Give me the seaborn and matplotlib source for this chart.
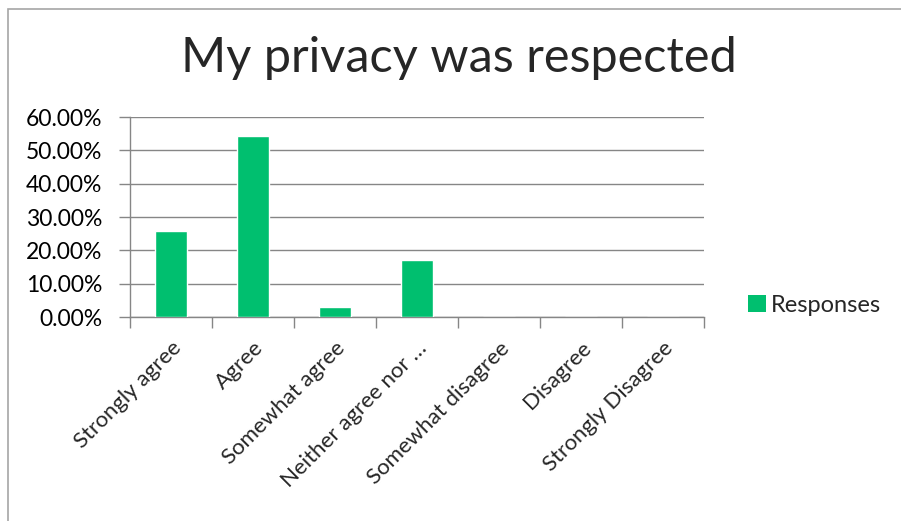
import matplotlib
matplotlib.use("Agg")
import matplotlib.pyplot as plt
import matplotlib.patches as mpatches
import matplotlib.transforms as mtransforms
import numpy as np
import pandas as pd
import seaborn as sns

# Survey answers and share of responses
categories = ["Strongly agree", "Agree", "Somewhat agree", "Neither agree nor …",
              "Somewhat disagree", "Disagree", "Strongly Disagree"]
responses = [0.2571, 0.5429, 0.0286, 0.1714, 0.0, 0.0, 0.0]
y_ticks = [0.0, 0.1, 0.2, 0.3, 0.4, 0.5, 0.6]
title = "My privacy was respected"
series_name = "Responses"

bar_color = "#00BF6F"
grid_color = "#868686"
font = ["Lato", "DejaVu Sans"]

sns.set_theme(style="white")
plt.rcParams["font.family"] = font

df = pd.DataFrame({"category": categories, "share": responses})

W, H = 901, 521
fig = plt.figure(figsize=(W / 100, H / 100), dpi=100)
fig.patch.set_facecolor("white")

# chart border (top and left edges visible)
fig.add_artist(mpatches.Rectangle((8 / W, -0.1), 1.2, 1 - 8.5 / H + 0.1,
                                  transform=fig.transFigure, fill=False,
                                  edgecolor="#A6A6A6", linewidth=1.2))

ax = fig.add_axes([130 / W, 1 - 317 / H, (704 - 130) / W, (317 - 117) / H])
sns.barplot(data=df, x="category", y="share", color=bar_color, width=0.4,
            saturation=1, ax=ax, zorder=3)

ax.set_xlim(-0.5, len(categories) - 0.5)
ax.set_ylim(0, 0.6)
ax.set_yticks(y_ticks)
ax.set_yticklabels([f"{v * 100:.2f}%" for v in y_ticks], fontsize=16.5)
ax.yaxis.grid(True, color=grid_color, linewidth=1, zorder=0)
ax.set_axisbelow(True)

for s in ["top", "right"]:
    ax.spines[s].set_visible(False)
for s in ["left", "bottom"]:
    ax.spines[s].set_color(grid_color)
    ax.spines[s].set_linewidth(1)

ax.tick_params(axis="y", which="major", left=True, length=8, width=1,
               color=grid_color, pad=12, labelcolor="black")

# category boundaries carry the tick marks, centres carry the labels
ax.set_xticks(np.arange(-0.5, len(categories), 1.0), minor=True)
ax.tick_params(axis="x", which="minor", bottom=True, length=8, width=1,
               color=grid_color)
ax.tick_params(axis="x", which="major", bottom=False, length=0)
ax.set_xticks(range(len(categories)))
ax.set_xticklabels(categories, rotation=45, ha="right", rotation_mode="anchor",
                   fontsize=16)
offset = mtransforms.ScaledTranslation(0 / 100, -16 / 100, fig.dpi_scale_trans)
for lbl in ax.get_xticklabels():
    lbl.set_transform(lbl.get_transform() + offset)

ax.set_xlabel("")
ax.set_ylabel("")

fig.text(459 / W, 1 - 58 / H, title, ha="center", va="center", fontsize=35)

handle = mpatches.Patch(facecolor=bar_color, edgecolor="none", label=series_name)
fig.legend(handles=[handle], loc="center left",
           bbox_to_anchor=(739 / W, 1 - 305 / H), frameon=False,
           fontsize=17, handlelength=0.75, handleheight=0.75,
           handletextpad=0.2, borderaxespad=0)

fig.savefig("out.png", dpi=100, facecolor="white")
